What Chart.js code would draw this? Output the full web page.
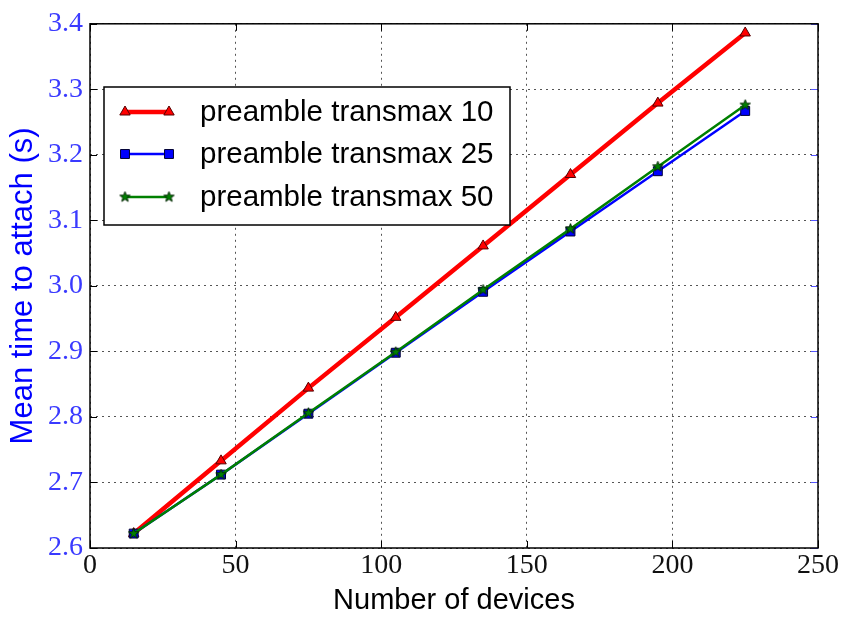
<!DOCTYPE html>
<html>
<head>
<meta charset="utf-8">
<script src="https://cdn.jsdelivr.net/npm/chart.js@4.4.0/dist/chart.umd.min.js"></script>
<style>
  html, body { margin: 0; padding: 0; background: #ffffff; }
  #wrap { width: 843px; height: 618px; }
</style>
</head>
<body>
<div id="wrap"><canvas id="c" width="843" height="618"></canvas></div>
<script>
// ---- data ----
const devices = [15, 45, 75, 105, 135, 165, 195, 225];
const transmax10 = [2.622, 2.733, 2.844, 2.952, 3.061, 3.170, 3.279, 3.386];
const transmax25 = [2.622, 2.712, 2.805, 2.898, 2.991, 3.083, 3.175, 3.267];
const transmax50 = [2.622, 2.712, 2.806, 2.899, 2.994, 3.087, 3.182, 3.276];
const seriesLabels = ['preamble transmax 10', 'preamble transmax 25', 'preamble transmax 50'];
const xTicks = [0, 50, 100, 150, 200, 250];
const yTicks = [2.6, 2.7, 2.8, 2.9, 3.0, 3.1, 3.2, 3.3, 3.4];
const xTitle = 'Number of devices';
const yTitle = 'Mean time to attach (s)';

// filled star marker (matplotlib '*')
function makeStar(fill, edge, rOut) {
  const s = Math.ceil(rOut * 2 + 4);
  const cv = document.createElement('canvas');
  cv.width = s; cv.height = s;
  const g = cv.getContext('2d');
  const cx = s / 2, cy = s / 2, rIn = rOut * 0.42;
  g.beginPath();
  for (let i = 0; i < 10; i++) {
    const r = i % 2 === 0 ? rOut : rIn;
    const a = -Math.PI / 2 + i * Math.PI / 5;
    const px = cx + r * Math.cos(a), py = cy + r * Math.sin(a);
    if (i === 0) g.moveTo(px, py); else g.lineTo(px, py);
  }
  g.closePath();
  g.fillStyle = fill; g.fill();
  g.lineWidth = 0.9; g.strokeStyle = edge; g.stroke();
  return cv;
}
const starImg = makeStar('#008000', '#002000', 5.5);

function pts(ys) { return devices.map((x, i) => ({ x: x, y: ys[i] })); }

const SANS = "'Liberation Sans', Arial, sans-serif";
const SERIF = "'Liberation Serif', 'DejaVu Serif', serif";

const frame = {
  id: 'frame',
  afterDraw(chart) {
    const { ctx, chartArea: a, scales } = chart;
    ctx.save();
    // inner tick marks
    const tl = 7;
    ctx.lineWidth = 1;
    ctx.strokeStyle = '#000';
    scales.x.ticks.forEach(t => {
      const px = Math.round(scales.x.getPixelForValue(t.value)) + 0.5;
      ctx.beginPath();
      ctx.moveTo(px, a.bottom); ctx.lineTo(px, a.bottom - tl);
      ctx.moveTo(px, a.top); ctx.lineTo(px, a.top + tl);
      ctx.stroke();
    });
    scales.y.ticks.forEach(t => {
      const py = Math.round(scales.y.getPixelForValue(t.value)) + 0.5;
      ctx.beginPath();
      ctx.strokeStyle = '#000';
      ctx.moveTo(a.left, py); ctx.lineTo(a.left + tl, py);
      ctx.stroke();
      ctx.beginPath();
      ctx.strokeStyle = '#5555ff';
      ctx.moveTo(a.right, py); ctx.lineTo(a.right - tl, py);
      ctx.stroke();
    });
    // frame
    ctx.lineWidth = 1.5;
    ctx.strokeStyle = '#000';
    ctx.strokeRect(a.left, a.top, a.right - a.left, a.bottom - a.top);

    // legend
    const bx = 104, by = 87, bw = 406, bh = 138;
    ctx.fillStyle = '#fff';
    ctx.fillRect(bx, by, bw, bh);
    ctx.lineWidth = 1.5;
    ctx.strokeStyle = '#000';
    ctx.strokeRect(bx, by, bw, bh);
    const rows = [112, 154, 197];
    chart.data.datasets.forEach((ds, i) => {
      const y = rows[i];
      ctx.save();
      ctx.strokeStyle = ds.borderColor;
      ctx.lineWidth = ds.borderWidth;
      ctx.beginPath(); ctx.moveTo(125, y); ctx.lineTo(169, y); ctx.stroke();
      ctx.restore();
      [125, 169].forEach(px => {
        const opts = {
          pointStyle: ds.pointStyle, radius: ds.pointRadius, rotation: 0,
          borderWidth: ds.pointBorderWidth
        };
        ctx.save();
        ctx.fillStyle = ds.pointBackgroundColor;
        ctx.strokeStyle = ds.pointBorderColor;
        ctx.lineWidth = ds.pointBorderWidth;
        Chart.helpers.drawPoint(ctx, opts, px, y);
        ctx.restore();
      });
      ctx.fillStyle = '#000';
      ctx.font = '29.5px ' + SANS;
      ctx.textBaseline = 'middle';
      ctx.textAlign = 'left';
      ctx.fillText(ds.label, 200, y + 1);
    });
    ctx.restore();
  }
};

new Chart(document.getElementById('c'), {
  type: 'line',
  data: {
    datasets: [
      {
        label: seriesLabels[0], data: pts(transmax10), order: 3,
        borderColor: '#ff0000', borderWidth: 4.5,
        pointStyle: 'triangle', pointRadius: 6, pointBorderWidth: 1,
        pointBackgroundColor: '#ff0000', pointBorderColor: '#550000',
        tension: 0
      },
      {
        label: seriesLabels[1], data: pts(transmax25), order: 2,
        borderColor: '#0000ff', borderWidth: 2.5,
        pointStyle: 'rect', pointRadius: 6.3, pointBorderWidth: 1,
        pointBackgroundColor: '#0000ff', pointBorderColor: '#000033',
        tension: 0
      },
      {
        label: seriesLabels[2], data: pts(transmax50), order: 1,
        borderColor: '#008000', borderWidth: 2.5,
        pointStyle: starImg, pointRadius: 6, pointBorderWidth: 1,
        pointBackgroundColor: '#008000', pointBorderColor: '#002000',
        tension: 0
      }
    ]
  },
  options: {
    responsive: false,
    animation: false,
    events: [],
    layout: { padding: { top: 20, right: 25, left: 0, bottom: 0 } },
    plugins: { legend: { display: false }, tooltip: { enabled: false } },
    scales: {
      x: {
        type: 'linear', min: 0, max: 250,
        afterBuildTicks: s => { s.ticks = xTicks.map(v => ({ value: v })); },
        afterFit: s => { s.height = 70; },
        grid: { color: '#555', lineWidth: 1, drawTicks: false },
        border: { display: false, dash: [2, 4] },
        ticks: {
          color: '#111', padding: 1, maxRotation: 0,
          font: { family: SERIF, size: 28 },
          callback: v => String(v)
        },
        title: {
          display: true, text: xTitle, color: '#000',
          font: { family: SANS, size: 29 }, padding: { top: 0, bottom: 0 }
        }
      },
      y: {
        type: 'linear', min: 2.6, max: 3.4,
        afterBuildTicks: s => { s.ticks = yTicks.map(v => ({ value: v })); },
        afterFit: s => { s.width = 90; },
        grid: { color: '#555', lineWidth: 1, drawTicks: false },
        border: { display: false, dash: [2, 4] },
        ticks: {
          color: '#3a3aff', padding: 7,
          font: { family: SERIF, size: 28 },
          callback: v => Number(v).toFixed(1)
        },
        title: {
          display: true, text: yTitle, color: '#0000ff',
          font: { family: SANS, size: 31 }, padding: { top: 5, bottom: 0 }
        }
      }
    }
  },
  plugins: [frame]
});
</script>
</body>
</html>
